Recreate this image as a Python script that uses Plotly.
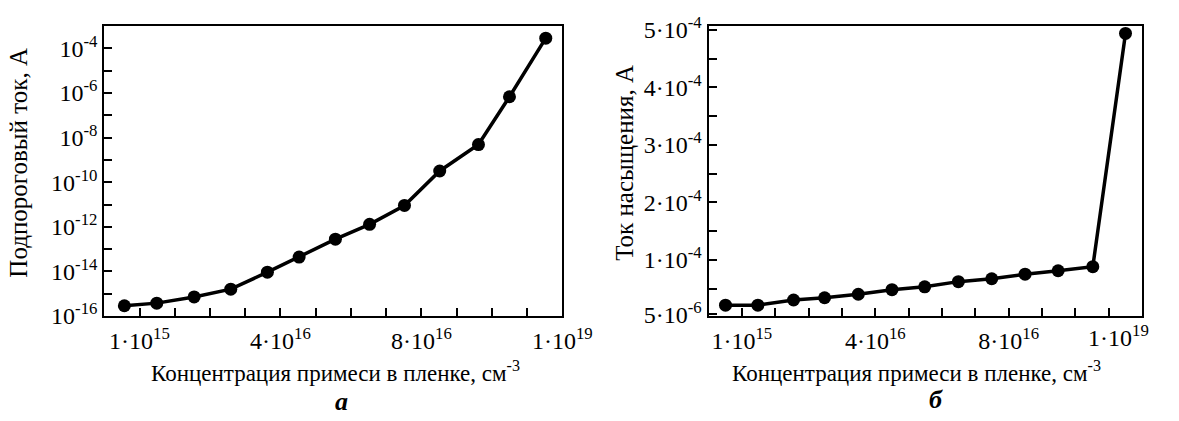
import plotly.graph_objects as go

# ---- data ----
# x positions are the ordinal positions of the concentration samples on the (non-linear) axis
x_pos_a = [0.57, 1.49, 2.55, 3.59, 4.63, 5.53, 6.56, 7.53, 8.52, 9.52, 10.62, 11.50, 12.53]
subthreshold_current = [2.9e-16, 3.8e-16, 7.2e-16, 1.6e-15, 9.3e-15, 4.4e-14, 2.8e-13,
                        1.3e-12, 9.1e-12, 3.2e-10, 4.9e-9, 6.8e-7, 2.9e-4]

x_pos_b = [0.51, 1.48, 2.55, 3.48, 4.49, 5.50, 6.48, 7.49, 8.49, 9.49, 10.48, 11.52, 12.50]
saturation_current = [2.1e-5, 2.1e-5, 3.0e-5, 3.4e-5, 4.0e-5, 4.8e-5, 5.3e-5,
                      6.2e-5, 6.7e-5, 7.5e-5, 8.1e-5, 8.8e-5, 4.94e-4]

x_label_pos = [1, 5, 9, 13]
x_label_text = ["1·10<sup>15</sup>", "4·10<sup>16</sup>", "8·10<sup>16</sup>", "1·10<sup>19</sup>"]

ya_exponents = list(range(-16, -3))
yb_tickvals = [5e-6, 5e-5, 1e-4, 1.5e-4, 2e-4, 2.5e-4, 3e-4, 3.5e-4, 4e-4, 4.5e-4, 5e-4]
yb_ticktext = ["5·10<sup>-6</sup>", "", "1·10<sup>-4</sup>", "", "2·10<sup>-4</sup>", "",
               "3·10<sup>-4</sup>", "", "4·10<sup>-4</sup>", "", "5·10<sup>-4</sup>"]

x_title = "Концентрация примеси в пленке, см<sup>-3</sup>"
ya_title = "Подпороговый ток, А"
yb_title = "Ток насыщения, А"

# ---- figure ----
W, H = 1179, 421
FONT = "Liberation Serif"
TICK_SIZE = 24

fig = go.Figure()
line_style = dict(color="black", width=3.5)
marker_style = dict(color="black", size=13)

fig.add_trace(go.Scatter(x=x_pos_a, y=subthreshold_current, mode="lines+markers",
                         line=line_style, marker=marker_style, xaxis="x", yaxis="y",
                         showlegend=False))
fig.add_trace(go.Scatter(x=x_pos_b, y=saturation_current, mode="lines+markers",
                         line=line_style, marker=marker_style, xaxis="x2", yaxis="y2",
                         showlegend=False))

all_x_ticks = list(range(1, 14))
def xtext(labels_at, texts):
    m = dict(zip(labels_at, texts))
    return [m.get(v, "") for v in all_x_ticks]

axis_common = dict(showline=True, linecolor="black", linewidth=2, mirror=True,
                   ticks="inside", ticklen=8, tickwidth=2, tickcolor="black",
                   showgrid=False, zeroline=False,
                   tickfont=dict(family=FONT, size=TICK_SIZE, color="black"))

y_dom = [1 - 323 / H, 1 - 14 / H]

fig.update_layout(
    width=W, height=H, margin=dict(l=0, r=0, t=0, b=0),
    paper_bgcolor="white", plot_bgcolor="white",
    font=dict(family=FONT, color="black"),
    xaxis=dict(domain=[107 / W, 577 / W], range=[0, 13], tickmode="array",
               tickvals=all_x_ticks, ticktext=xtext(x_label_pos, x_label_text),
               anchor="y", ticklabelstandoff=2, **axis_common),
    yaxis=dict(domain=y_dom, type="log", range=[-16, -3], tickmode="array",
               tickvals=[10.0 ** e for e in ya_exponents],
               ticktext=[f"10<sup>{e}</sup>" if e % 2 == 0 else "" for e in ya_exponents],
               anchor="x", **axis_common),
    xaxis2=dict(domain=[727 / W, 1172 / W], range=[0, 13], tickmode="array",
                tickvals=all_x_ticks, ticktext=xtext(x_label_pos[:3], x_label_text[:3]),
                anchor="y2", ticklabelstandoff=2, **axis_common),
    yaxis2=dict(domain=y_dom, range=[2.1e-6, 5.067e-4], tickmode="array",
                tickvals=yb_tickvals, ticktext=yb_ticktext,
                anchor="x2", **axis_common),
)

ann_font = dict(family=FONT, size=23, color="black")
annotations = [
    # last x label of panel b (shifted to stay inside the picture)
    dict(text=x_label_text[3], x=12.3, xref="x2", y=1 - 344 / H, yref="paper",
         showarrow=False, font=dict(family=FONT, size=TICK_SIZE, color="black"),
         xanchor="center", yanchor="middle"),
    dict(text=x_title, x=344 / W, y=1 - 382 / H, xref="paper", yref="paper",
         showarrow=False, font=ann_font, xanchor="center", yanchor="middle"),
    dict(text=x_title, x=940 / W, y=1 - 382 / H, xref="paper", yref="paper",
         showarrow=False, font=ann_font, xanchor="center", yanchor="middle"),
    dict(text=ya_title, x=19 / W, y=1 - 160 / H, xref="paper", yref="paper",
         textangle=-90, showarrow=False, font=dict(family=FONT, size=25, color="black"),
         xanchor="center", yanchor="middle"),
    dict(text=yb_title, x=640 / W, y=1 - 160 / H, xref="paper", yref="paper",
         textangle=-90, showarrow=False, font=dict(family=FONT, size=25, color="black"),
         xanchor="center", yanchor="middle"),
    dict(text="<b><i>а</i></b>", x=350 / W, y=1 - 414 / H, xref="paper", yref="paper",
         showarrow=False, font=dict(family=FONT, size=26, color="black"),
         xanchor="center", yanchor="middle"),
    dict(text="<b><i>б</i></b>", x=960 / W, y=1 - 412 / H, xref="paper", yref="paper",
         showarrow=False, font=dict(family=FONT, size=26, color="black"),
         xanchor="center", yanchor="middle"),
]
fig.update_layout(annotations=annotations)

fig.write_html("out.html")
